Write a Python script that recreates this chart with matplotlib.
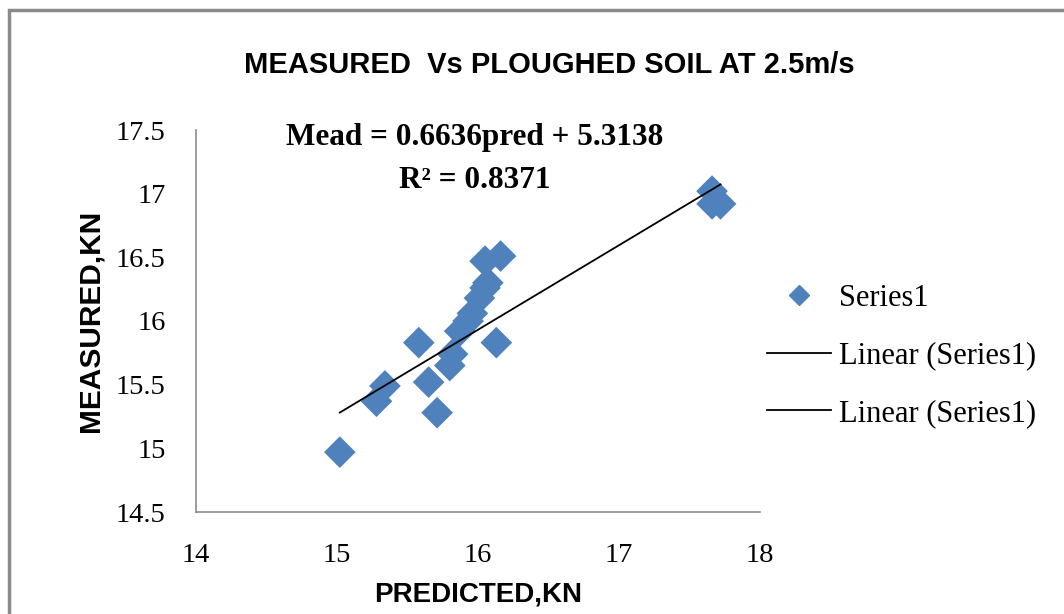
import numpy as np
import matplotlib.pyplot as plt
from matplotlib.lines import Line2D
from matplotlib.patches import Rectangle

# predicted vs measured draught force (kN)
pred = [15.02, 15.28, 15.34, 15.58, 15.65, 15.71, 15.80, 15.82, 15.87, 15.93,
        15.96, 16.01, 16.05, 16.07, 16.05, 16.16, 16.13, 17.66, 17.66, 17.72]
meas = [14.97, 15.37, 15.49, 15.83, 15.52, 15.28, 15.65, 15.74, 15.92, 16.00,
        16.06, 16.18, 16.26, 16.30, 16.47, 16.51, 15.83, 17.02, 16.92, 16.92]

# trendline as printed on the chart
slope = 0.6636
intercept = 5.3138
r2 = 0.8371

xticks = [14, 15, 16, 17, 18]
yticks = [14.5, 15, 15.5, 16, 16.5, 17, 17.5]

serif = 'Liberation Serif'
narrow = ['Liberation Sans Narrow', 'Liberation Sans', 'DejaVu Sans']

fig = plt.figure(figsize=(10.64, 6.14), dpi=100)
fig.patches.append(Rectangle((9 / 1064, -0.1), 1.2, 1.1 - 10 / 614, transform=fig.transFigure,
                             fill=False, edgecolor='#8a8a8a', linewidth=2.5))

ax = fig.add_axes([196 / 1064, 1 - 512 / 614, (760 - 196) / 1064, (512 - 130) / 614])
ax.scatter(pred, meas, marker='D', s=260, color='#4f81bd', edgecolors='none', zorder=3)

xs = np.array([min(pred), max(pred)])
ax.plot(xs, slope * xs + intercept, color='black', linewidth=1.3, zorder=4)

ax.set_xlim(14, 18)
ax.set_ylim(14.5, 17.5)
ax.set_xticks(xticks)
ax.set_yticks(yticks)
ax.set_xticklabels([str(t) for t in xticks], fontfamily=serif, fontsize=20.5)
ax.set_yticklabels(['%g' % t for t in yticks], fontfamily=serif, fontsize=20.5)
ax.tick_params(axis='y', length=0, pad=22)
ax.tick_params(axis='x', length=0, pad=22)
for side in ['top', 'right']:
    ax.spines[side].set_visible(False)
for side in ['left', 'bottom']:
    ax.spines[side].set_color('#8c8c8c')
    ax.spines[side].set_linewidth(1.2)

ax.set_xlabel('PREDICTED,KN', fontfamily=narrow, fontweight='bold', fontsize=20, labelpad=10)
ax.set_ylabel('MEASURED,KN', fontfamily=narrow, fontweight='bold', fontsize=21.5, labelpad=8)

fig.text(549 / 1064, 1 - 65 / 614, 'MEASURED  Vs PLOUGHED SOIL AT 2.5m/s',
         fontfamily=narrow, fontweight='bold', fontsize=21, ha='center', va='center')
fig.text(475 / 1064, 1 - 138 / 614, 'Mead = %.4fpred + %.4f' % (slope, intercept),
         fontfamily=serif, fontweight='bold', fontsize=22.5, ha='center', va='center')
fig.text(475 / 1064, 1 - 180 / 614, 'R² = %.4f' % r2,
         fontfamily=serif, fontweight='bold', fontsize=22.5, ha='center', va='center')

handles = [Line2D([], [], marker='D', color='#4f81bd', linestyle='none', markersize=10),
           Line2D([], [], color='black', linewidth=1.3),
           Line2D([], [], color='black', linewidth=1.3)]
labels = ['Series1', 'Linear (Series1)', 'Linear (Series1)']
fig.legend(handles, labels, loc='center left', bbox_to_anchor=(739 / 1064, 1 - 356 / 614),
           frameon=False, prop={'family': serif, 'size': 22}, handlelength=2.1,
           handletextpad=0.26, labelspacing=0.93)

fig.savefig('out.png', dpi=100)
